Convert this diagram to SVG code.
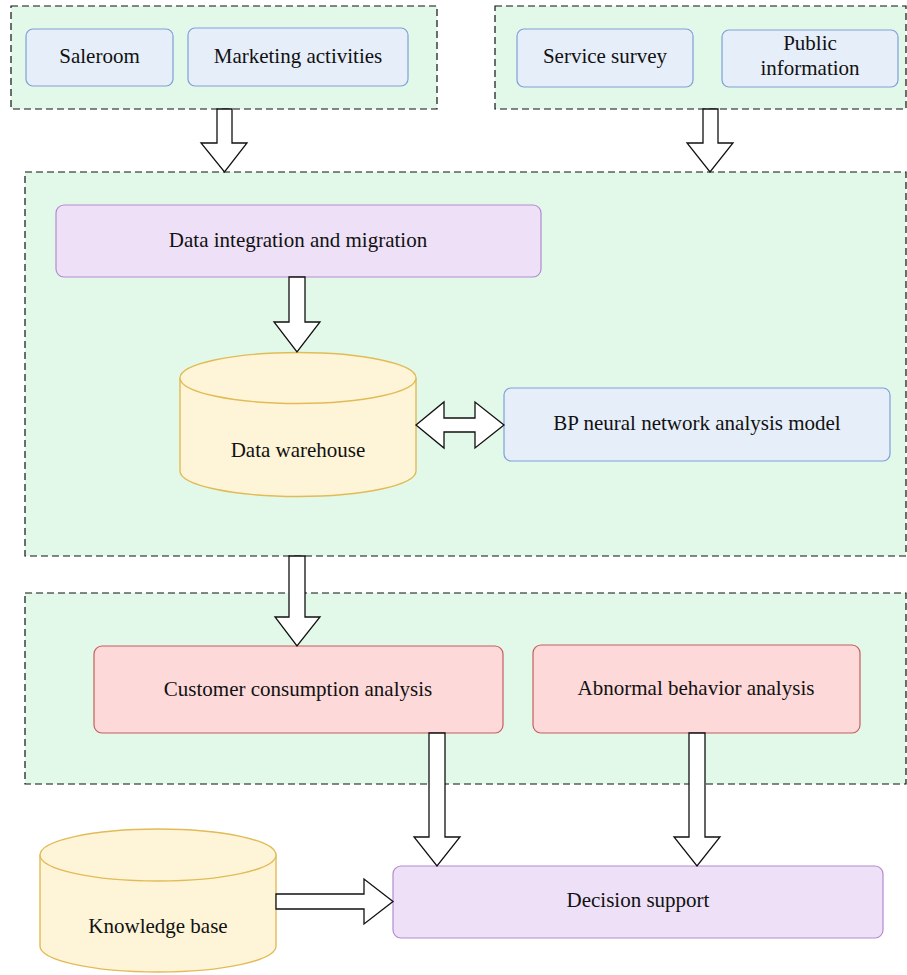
<svg xmlns="http://www.w3.org/2000/svg" width="907" height="975" viewBox="0 0 907 975">
<style>
.cont{fill:#e2f9ea;stroke:#111;stroke-width:1.2;stroke-dasharray:7 4}
.blue{fill:#e6eefa;stroke:#7e9fd8;stroke-width:1.2}
.purple{fill:#eee0f7;stroke:#b48bcf;stroke-width:1.2}
.red{fill:#fdd9da;stroke:#c65e5c;stroke-width:1.2}
.yellow{fill:#fef5d8;stroke:#e2bb56;stroke-width:1.4}
.arr{fill:#fff;stroke:#111;stroke-width:1.3;stroke-linejoin:miter}
text{font-family:"Liberation Serif","Times New Roman",serif;font-size:21px;fill:#111;text-anchor:middle;dominant-baseline:central}
</style>
<rect width="907" height="975" fill="#fff"/>
<g id="containers">
<rect id="src-left" class="cont" x="11" y="6" width="426" height="103"/>
<rect id="src-right" class="cont" x="495" y="6" width="411" height="103"/>
<rect id="main" class="cont" x="25" y="172" width="881" height="384"/>
<rect id="analysis" class="cont" x="25" y="593" width="881" height="191"/>
</g>
<g id="saleroom"><rect class="blue" x="26" y="29" width="147" height="57" rx="7"/><text x="99.5" y="56">Saleroom</text></g>
<g id="marketing"><rect class="blue" x="188" y="28" width="220" height="58" rx="7"/><text x="298" y="56">Marketing activities</text></g>
<g id="service"><rect class="blue" x="517" y="29" width="176" height="58" rx="7"/><text x="605" y="56">Service survey</text></g>
<g id="public"><rect class="blue" x="722" y="30" width="176" height="57" rx="7"/><text x="810" y="43">Public</text><text x="810" y="68">information</text></g>
<g id="integration"><rect class="purple" x="56" y="205" width="485" height="72" rx="8"/><text x="298" y="240">Data integration and migration</text></g>
<g id="warehouse">
<path class="yellow" d="M180,378 A118,25.5 0 0 1 416,378 L416,471 A118,25.5 0 0 1 180,471 Z"/>
<path class="yellow" fill="none" d="M180,378 A118,25.5 0 0 0 416,378"/>
<text x="298" y="450">Data warehouse</text>
</g>
<g id="bp"><rect class="blue" x="504" y="388" width="386" height="73" rx="7"/><text x="697" y="423">BP neural network analysis model</text></g>
<g id="customer"><rect class="red" x="94" y="646" width="409" height="87" rx="8"/><text x="298" y="689">Customer consumption analysis</text></g>
<g id="abnormal"><rect class="red" x="533" y="645" width="327" height="88" rx="8"/><text x="696" y="688">Abnormal behavior analysis</text></g>
<g id="knowledge">
<path class="yellow" d="M40,855 A118,26 0 0 1 276,855 L276,946 A118,26 0 0 1 40,946 Z"/>
<path class="yellow" fill="none" d="M40,855 A118,26 0 0 0 276,855"/>
<text x="158" y="926">Knowledge base</text>
</g>
<g id="decision"><rect class="purple" x="393" y="866" width="490" height="72" rx="8"/><text x="638" y="900">Decision support</text></g>
<g id="connectors">
<path class="arr" d="M217,109 L232,109 L232,143 L247,143 L224.5,172 L201,143 L217,143 Z"/>
<path class="arr" d="M703,109 L718,109 L718,143 L733,143 L710,172 L687,143 L703,143 Z"/>
<path class="arr" d="M289,277 L305,277 L305,322 L320,322 L297,352 L274,322 L289,322 Z"/>
<path class="arr" d="M416,425 L444,402 L444,418 L475,418 L475,402 L504,425 L475,448 L475,432 L444,432 L444,448 Z"/>
<path class="arr" d="M289,556 L305,556 L305,617 L320,617 L297,646 L275,617 L289,617 Z"/>
<path class="arr" d="M429,733 L445,733 L445,837 L460,837 L437,866 L414,837 L429,837 Z"/>
<path class="arr" d="M689,733 L705,733 L705,837 L720,837 L697,866 L674,837 L689,837 Z"/>
<path class="arr" d="M276,894 L364,894 L364,879 L393,901.5 L364,924 L364,909 L276,909 Z"/>
</g>
</svg>
